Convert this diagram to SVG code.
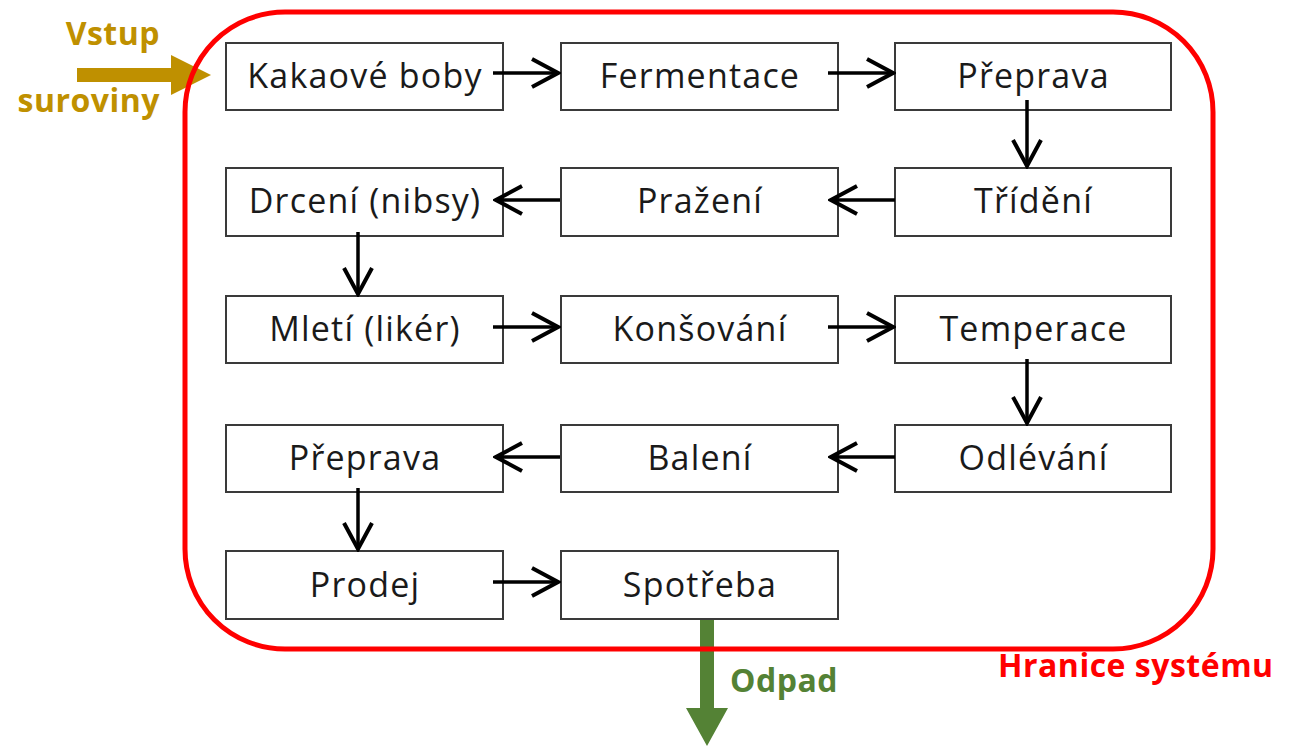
<svg xmlns="http://www.w3.org/2000/svg" width="1295" height="746" viewBox="0 0 1295 746">
  <style>
    .box rect { fill: #ffffff; stroke: #3a3a3a; stroke-width: 2; }
    .box text { font-family: "Open Sans", "Liberation Sans", sans-serif; font-size: 34px; letter-spacing: 1.2px; fill: #1a1a1a; text-anchor: middle; }
    .flow { stroke: #000000; stroke-width: 3.5; fill: none; marker-end: url(#chev); }
    .lbl { font-family: "Open Sans", "Liberation Sans", sans-serif; font-weight: bold; font-size: 32px; letter-spacing: 0.5px; }
  </style>
  <defs>
    <marker id="chev" markerUnits="userSpaceOnUse" viewBox="0 0 32 32" markerWidth="32" markerHeight="32" refX="29" refY="16" orient="auto">
      <path d="M3,2 L29,16 L3,30" fill="none" stroke="#000000" stroke-width="4"/>
    </marker>
  </defs>
  <rect width="1295" height="746" fill="#ffffff"/>

  <!-- input and waste flows crossing the system boundary -->
  <g id="input">
    <polygon points="77,68 171,68 171,55 211,75 171,95 171,82 77,82" fill="#bf9000"/>
    <text class="lbl" x="160" y="45" text-anchor="end" fill="#bf9000">Vstup</text>
    <text class="lbl" x="160" y="112" text-anchor="end" fill="#bf9000">suroviny</text>
  </g>
  <g id="waste">
    <polygon points="700,620 714,620 714,708 728,708 707,746 686,708 700,708" fill="#548235"/>
    <text class="lbl" x="730" y="692" fill="#548235">Odpad</text>
  </g>

  <!-- system boundary -->
  <g id="boundary">
    <rect x="185" y="12" width="1028" height="637" rx="100" ry="100" fill="none" stroke="#ff0000" stroke-width="5"/>
    <text class="lbl" x="998" y="677" fill="#ff0000">Hranice systému</text>
  </g>

  <!-- process steps -->
  <g id="n1" class="box"><rect x="226" y="43" width="277" height="67"/><text x="365" y="88">Kakaové boby</text></g>
  <g id="n2" class="box"><rect x="561" y="43" width="277" height="67"/><text x="700" y="88">Fermentace</text></g>
  <g id="n3" class="box"><rect x="895" y="43" width="276" height="67"/><text x="1033.5" y="88">Přeprava</text></g>

  <g id="n4" class="box"><rect x="895" y="168" width="276" height="68"/><text x="1033.5" y="213">Třídění</text></g>
  <g id="n5" class="box"><rect x="561" y="168" width="277" height="68"/><text x="700" y="213">Pražení</text></g>
  <g id="n6" class="box"><rect x="226" y="168" width="277" height="68"/><text x="365" y="213">Drcení (nibsy)</text></g>

  <g id="n7" class="box"><rect x="226" y="296" width="277" height="67"/><text x="365" y="341">Mletí (likér)</text></g>
  <g id="n8" class="box"><rect x="561" y="296" width="277" height="67"/><text x="700" y="341">Konšování</text></g>
  <g id="n9" class="box"><rect x="895" y="296" width="276" height="67"/><text x="1033.5" y="341">Temperace</text></g>

  <g id="n10" class="box"><rect x="895" y="425" width="276" height="67"/><text x="1033.5" y="470">Odlévání</text></g>
  <g id="n11" class="box"><rect x="561" y="425" width="277" height="67"/><text x="700" y="470">Balení</text></g>
  <g id="n12" class="box"><rect x="226" y="425" width="277" height="67"/><text x="365" y="470">Přeprava</text></g>

  <g id="n13" class="box"><rect x="226" y="551" width="277" height="68"/><text x="365" y="597">Prodej</text></g>
  <g id="n14" class="box"><rect x="561" y="551" width="277" height="68"/><text x="700" y="597">Spotřeba</text></g>

  <!-- connectors -->
  <g id="connectors">
    <line class="flow" x1="493" y1="73" x2="558" y2="73"/>
    <line class="flow" x1="828" y1="73" x2="893" y2="73"/>
    <line class="flow" x1="1027" y1="100" x2="1027" y2="166"/>
    <line class="flow" x1="895" y1="200" x2="831" y2="200"/>
    <line class="flow" x1="560" y1="200" x2="496" y2="200"/>
    <line class="flow" x1="358" y1="232" x2="358" y2="294"/>
    <line class="flow" x1="493" y1="327" x2="558" y2="327"/>
    <line class="flow" x1="828" y1="327" x2="893" y2="327"/>
    <line class="flow" x1="1027" y1="359" x2="1027" y2="423"/>
    <line class="flow" x1="895" y1="457" x2="831" y2="457"/>
    <line class="flow" x1="560" y1="457" x2="496" y2="457"/>
    <line class="flow" x1="358" y1="488" x2="358" y2="549"/>
    <line class="flow" x1="493" y1="582" x2="558" y2="582"/>
  </g>
</svg>
